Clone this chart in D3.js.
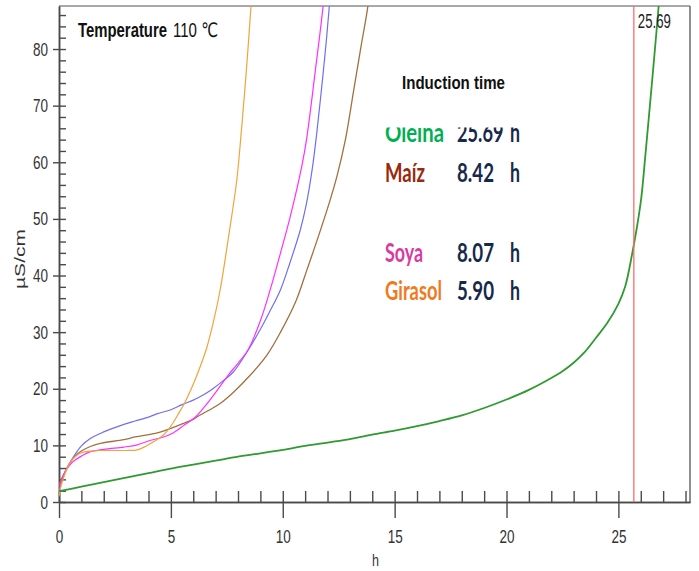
<!DOCTYPE html>
<html>
<head>
<meta charset="utf-8">
<script src="https://cdn.jsdelivr.net/npm/d3@7"></script>
<style>
  body { margin: 0; background: #fff; }
  svg { display: block; }
</style>
</head>
<body>
<div id="chart"></div>
<script>
//conductivity curves, [hours, µS/cm]
var oleina = [[0,1.9],[1,2.7],[2,3.5],[3,4.3],[4,5.1],[5,5.9],[6,6.6],[7,7.3],[8,8.0],[9,8.6],[10,9.2],[11,9.9],[12,10.5],[13,11.1],[14,11.9],[15,12.6],[16,13.4],[17,14.3],[18,15.3],[19,16.6],[20,18.1],[21,19.8],[22,21.9],[22.5,23.1],[23,24.6],[23.5,26.5],[24,29.0],[24.5,31.6],[25,35.0],[25.3,38.0],[25.6,43.5],[26.0,53],[26.2,61],[26.43,71],[26.6,78.5],[26.8,87.6],[26.85,90]];
var maiz = [[0,2.8],[0.1,4.0],[0.27,5.3],[0.5,7.0],[0.72,8.1],[1.0,9.0],[1.4,9.8],[1.9,10.4],[2.9,11.0],[3.4,11.5],[4.4,12.2],[5.0,13.0],[5.5,13.8],[6.0,14.6],[6.2,15.1],[6.7,16.2],[7.2,17.4],[7.8,19.4],[8.5,22.2],[9.3,26.0],[9.9,30.0],[10.6,35.6],[11.08,41.0],[11.6,47.0],[12.13,53.5],[12.42,57.5],[12.8,64.0],[13.17,72.7],[13.5,80.5],[13.8,87.5],[13.85,90]];
var soya = [[0,1.5],[0.1,3.5],[0.27,5.3],[0.5,6.6],[0.72,7.4],[1.0,8.1],[1.35,8.8],[2.0,9.3],[2.9,9.7],[3.5,10.1],[4.1,10.9],[4.6,11.4],[5.1,12.2],[5.6,13.6],[6.1,15.0],[6.6,17.3],[7.1,19.9],[7.6,22.6],[8.0,24.5],[8.45,26.9],[9.0,32.0],[9.44,37.5],[9.9,44.0],[10.34,50.5],[10.86,59.5],[11.08,64.5],[11.45,76.0],[11.8,87.5],[11.85,90]];
var girasol = [[0,1.0],[0.1,3.0],[0.27,5.0],[0.5,7.0],[0.72,8.0],[1.0,8.7],[1.4,9.0],[2,9.1],[3,9.1],[3.5,9.2],[3.9,9.9],[4.3,10.8],[4.6,11.6],[4.85,12.6],[5.1,14.0],[5.34,15.6],[5.6,17.4],[6.0,20.8],[6.3,23.8],[6.6,27.2],[6.9,31.8],[7.2,37.4],[7.45,43.5],[7.7,50.0],[7.95,57.0],[8.15,65.5],[8.35,75.0],[8.58,87.5],[8.62,90]];
var otherOil = [[0,1.5],[0.1,3.5],[0.27,5.3],[0.5,7.0],[0.72,8.4],[1.0,9.9],[1.4,11.2],[1.9,12.2],[2.4,13.0],[2.9,13.7],[3.4,14.3],[4.0,15.0],[4.4,15.6],[5.0,16.3],[5.5,17.2],[6.0,18.0],[6.3,18.6],[6.8,19.8],[7.3,21.3],[7.8,23.0],[8.45,26.8],[9.0,30.5],[9.4,33.5],[9.89,37.4],[10.3,42.0],[10.78,48],[11.05,52.5],[11.31,58.6],[11.5,64.5],[11.68,71],[11.9,79.5],[12.08,87.5],[12.12,90]];

//legend
var oilNames = ["Oleina", "Maíz", "Soya", "Girasol"];
var inductionTimes = [25.69, 8.42, 8.07, 5.90];

//axis ticks
var xMajorTicks = [0, 5, 10, 15, 20, 25];
var yMajorTicks = [0, 10, 20, 30, 40, 50, 60, 70, 80];

var width = 699, height = 571;
var margin = {top: 6, right: 9, bottom: 69, left: 59};

var x = d3.scaleLinear().domain([0, 28.2]).range([margin.left, width - margin.right]);
var y = d3.scaleLinear().domain([0, 87.6]).range([height - margin.bottom, margin.top]);

var svg = d3.select("#chart").append("svg")
    .attr("width", width)
    .attr("height", height);

var condensed = function (sel, perChar) {
    sel.attr("textLength", function () { return this.textContent.length * perChar; })
        .attr("lengthAdjust", "spacingAndGlyphs");
};

//plot clip
svg.append("clipPath").attr("id", "plotClip")
    .append("rect")
    .attr("x", margin.left).attr("y", margin.top)
    .attr("width", width - margin.left - margin.right)
    .attr("height", height - margin.top - margin.bottom);

//frame top and right
svg.append("line")
    .attr("x1", margin.left).attr("x2", width - margin.right)
    .attr("y1", margin.top).attr("y2", margin.top)
    .attr("stroke", "#a8a8a8").attr("stroke-width", 2);
svg.append("line")
    .attr("x1", width - margin.right).attr("x2", width - margin.right)
    .attr("y1", margin.top).attr("y2", height - margin.bottom)
    .attr("stroke", "#6a6a6a").attr("stroke-width", 1.5);

//x axis: minor ticks inside, major ticks through
var xMinor = svg.append("g")
    .attr("transform", "translate(0," + (height - margin.bottom) + ")")
    .call(d3.axisBottom(x).tickValues(d3.range(0, 29)).tickSize(-11).tickSizeOuter(0).tickFormat(""));
var xMajor = svg.append("g")
    .attr("transform", "translate(0," + (height - margin.bottom) + ")")
    .call(d3.axisBottom(x).tickValues(xMajorTicks).tickSize(16).tickPadding(12).tickSizeOuter(0));

//y axis
var yMinor = svg.append("g")
    .attr("transform", "translate(" + margin.left + ",0)")
    .call(d3.axisLeft(y).tickValues(d3.range(0, 88, 2)).tickSize(-7).tickSizeOuter(0).tickFormat(""));
var yMajor = svg.append("g")
    .attr("transform", "translate(" + margin.left + ",0)")
    .call(d3.axisLeft(y).tickValues(yMajorTicks).tickSize(6).tickPadding(5).tickSizeOuter(0));

[xMinor, xMajor, yMinor, yMajor].forEach(function (g) {
    g.selectAll("path.domain").attr("stroke", "#4a4a4a").attr("stroke-width", 1.5);
    g.selectAll(".tick line").attr("stroke", "#4a4a4a").attr("stroke-width", 1.4);
});
[xMajor, yMajor].forEach(function (g) {
    g.selectAll(".tick text")
        .attr("fill", "#333")
        .attr("font-family", "'Liberation Sans', Arial, sans-serif")
        .style("font-size", "19px")
        .call(condensed, 7.5);
});

//axis titles
svg.append("text")
    .attr("x", x(14.15)).attr("y", 566)
    .attr("text-anchor", "middle")
    .attr("font-family", "'Liberation Sans', Arial, sans-serif")
    .attr("fill", "#333")
    .style("font-size", "17px")
    .attr("textLength", 7).attr("lengthAdjust", "spacingAndGlyphs")
    .text("h");
svg.append("text")
    .attr("transform", "translate(25,259) rotate(-90)")
    .attr("text-anchor", "middle")
    .attr("font-family", "'Liberation Sans', Arial, sans-serif")
    .attr("fill", "#333")
    .style("font-size", "15px")
    .attr("textLength", 60).attr("lengthAdjust", "spacingAndGlyphs")
    .text("µS/cm");

//curves
var line = d3.line()
    .x(function (d) { return x(d[0]); })
    .y(function (d) { return y(d[1]); })
    .curve(d3.curveCatmullRom.alpha(0.5));

var series = [
    {values: otherOil, color: "#6f6ff2", w: 1.2},
    {values: maiz, color: "#a2703f", w: 1.3},
    {values: soya, color: "#ff30ff", w: 1.2},
    {values: girasol, color: "#f2a33a", w: 1.2},
    {values: oleina, color: "#2f9a2f", w: 1.8}
];
var plot = svg.append("g").attr("clip-path", "url(#plotClip)");
plot.selectAll("path.oil")
    .data(series)
    .enter().append("path")
    .attr("class", "oil")
    .attr("fill", "none")
    .attr("stroke", function (d) { return d.color; })
    .attr("stroke-width", function (d) { return d.w; })
    .attr("d", function (d) { return line(d.values); });

//induction time marker of oleina
plot.append("line")
    .attr("x1", x(inductionTimes[0])).attr("x2", x(inductionTimes[0]))
    .attr("y1", y.range()[1]).attr("y2", y.range()[0])
    .attr("stroke", "#ff6a6a").attr("stroke-width", 1.3);
svg.append("text")
    .attr("x", x(inductionTimes[0]) + 4).attr("y", 28)
    .attr("font-family", "'Liberation Sans', Arial, sans-serif")
    .attr("fill", "#222")
    .style("font-size", "20px")
    .attr("textLength", 33).attr("lengthAdjust", "spacingAndGlyphs")
    .text(inductionTimes[0].toFixed(2));

//title
svg.append("text")
    .attr("x", 78).attr("y", 37)
    .attr("font-family", "'Liberation Sans', Arial, sans-serif")
    .attr("font-weight", "bold")
    .attr("fill", "#111")
    .style("font-size", "20px")
    .attr("textLength", 89).attr("lengthAdjust", "spacingAndGlyphs")
    .text("Temperature");
svg.append("text")
    .attr("x", 173).attr("y", 37)
    .attr("font-family", "'Liberation Sans', 'DejaVu Sans', Arial, sans-serif")
    .attr("fill", "#111")
    .style("font-size", "20px")
    .attr("textLength", 45).attr("lengthAdjust", "spacingAndGlyphs")
    .text("110 ℃");

svg.append("text")
    .attr("x", 402).attr("y", 89)
    .attr("font-family", "'Liberation Sans', Arial, sans-serif")
    .attr("font-weight", "bold")
    .attr("fill", "#111")
    .style("font-size", "19px")
    .attr("textLength", 103).attr("lengthAdjust", "spacingAndGlyphs")
    .text("Induction time");

//legend rows (first row is cut at the top in the original)
var nameColors = ["#00b050", "#9a2a0c", "#d93aa3", "#f07a22"];
var nameWidths = [59, 40, 38, 57];
var rowY = [142, 182, 262, 300];

svg.append("clipPath").attr("id", "legendClip")
    .append("rect").attr("x", 370).attr("y", 127.5).attr("width", 170).attr("height", 200);

var legend = svg.append("g")
    .attr("clip-path", "url(#legendClip)")
    .attr("font-family", "Lato, 'Open Sans', sans-serif")
    .attr("font-weight", "bold")
    .style("font-size", "27px");

oilNames.forEach(function (name, i) {
    legend.append("text")
        .attr("x", 385).attr("y", rowY[i])
        .attr("fill", nameColors[i])
        .attr("textLength", nameWidths[i]).attr("lengthAdjust", "spacingAndGlyphs")
        .text(name);
    var t = inductionTimes[i].toFixed(2);
    legend.append("text")
        .attr("x", 457).attr("y", rowY[i])
        .attr("fill", "#17294a")
        .attr("textLength", t.length * 9.5 - 1).attr("lengthAdjust", "spacingAndGlyphs")
        .text(t);
    legend.append("text")
        .attr("x", 510).attr("y", rowY[i])
        .attr("fill", "#17294a")
        .attr("textLength", 10).attr("lengthAdjust", "spacingAndGlyphs")
        .text("h");
});
</script>
</body>
</html>
